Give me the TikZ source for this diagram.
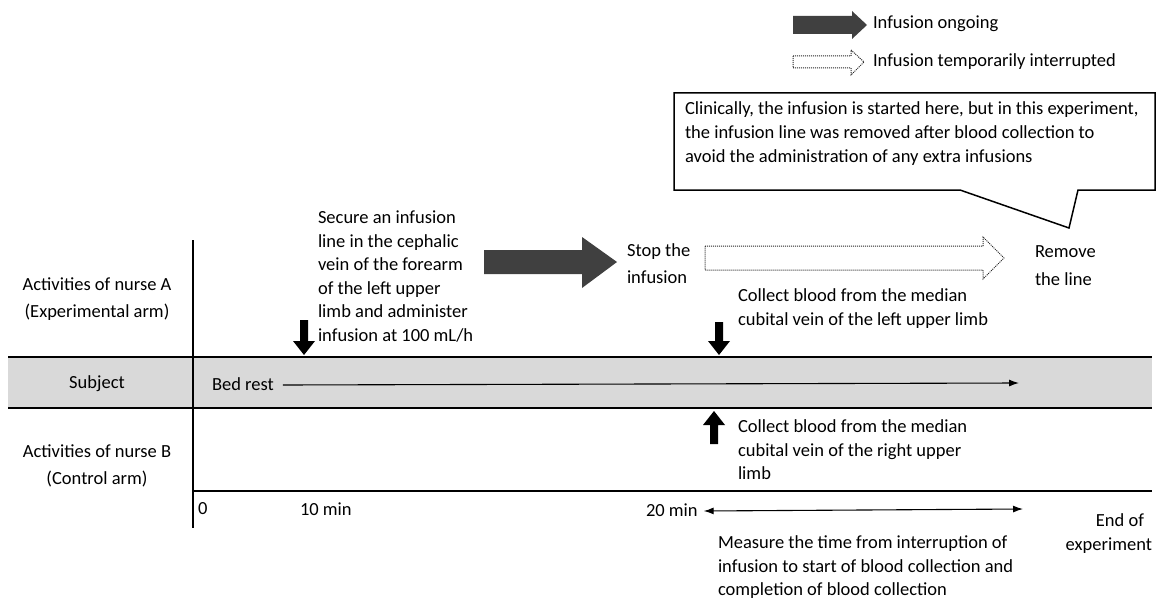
\documentclass[tikz,border=0pt]{standalone}
\usepackage{fontspec}
\setmainfont{Carlito}
\usetikzlibrary{arrows.meta}
\definecolor{darkarrow}{HTML}{404040}
\definecolor{band}{HTML}{D9D9D9}
\begin{document}
\begin{tikzpicture}[x=1pt,y=-1pt,
  every node/.style={inner sep=0pt,outer sep=0pt},
  txt/.style={font=\fontsize{18.5}{23.5}\selectfont,anchor=north west,align=left},
  txtw/.style={font=\fontsize{18.5}{26.5}\selectfont,align=left},
  one/.style={font=\fontsize{18.5}{23.5}\selectfont,anchor=west},
  rule/.style={line width=1.5pt,black},
  blk/.style={fill=black},
  dark/.style={fill=darkarrow},
  hollow/.style={draw=black!85,line width=1pt,densely dotted,fill=white},
  thin arrow/.style={line width=1.1pt,-{Latex[length=10pt,width=7pt]}},
  both arrow/.style={line width=1.1pt,{Latex[length=10pt,width=7pt]}-{Latex[length=10pt,width=7pt]}}]
\useasboundingbox (0,0) rectangle (1158,599);
% band
\fill[band] (8,357) rectangle (1152,408);
\draw[rule] (8,357) -- (1152,357);
\draw[rule] (8,408) -- (1152,408);
\draw[rule] (193,240) -- (193,528);
\draw[rule] (193,491) -- (1152,491);
% legend
\fill[dark] (793,16) -- (852,16) -- (852,11) -- (867,25) -- (852,39) -- (852,34) -- (793,34) -- cycle;
\draw[hollow] (793,56) -- (851,56) -- (851,50) -- (864,62) -- (851,75) -- (851,68) -- (793,68) -- cycle;
\node[one] (leg1) at (873,24) {Infusion ongoing};
\node[one] (leg2) at (873,62) {Infusion temporarily interrupted};
% callout
\draw[line width=1.5pt] (674,93) -- (1155,93) -- (1155,190) -- (1078,190) -- (1069,228) -- (960,190) -- (674,190) -- cycle;
\node[txt,font=\fontsize{18.5}{24}\selectfont] (call) at (685,102) {Clinically, the infusion is started here, but in this experiment,\\the infusion line was removed after blood collection to\\avoid the administration of any extra infusions};
% big arrows
\fill[dark] (484,250) -- (582,250) -- (582,237) -- (617,262) -- (582,288) -- (582,274) -- (484,274) -- cycle;
\draw[hollow] (705,246) -- (983,246) -- (983,237) -- (1004,258) -- (983,279) -- (983,270) -- (705,270) -- cycle;
% nurse A texts
\node[txt] (secure) at (318,211) {Secure an infusion\\line in the cephalic\\vein of the forearm\\of the left upper\\limb and administer\\infusion at 100 mL/h};
\node[txtw,anchor=north west] (stop) at (627,244) {Stop the\\infusion};
\node[txt,font=\fontsize{18.5}{28}\selectfont] (remove) at (1035,246) {Remove\\the line};
\node[txt] (collA) at (738,289) {Collect blood from the median\\cubital vein of the left upper limb};
\node[txt] (collB) at (738,420) {Collect blood from the median\\cubital vein of the right upper\\limb};
% block arrows
\fill[blk] (300,320) -- (308,320) -- (308,341) -- (315,341) -- (304,355) -- (293,341) -- (300,341) -- cycle;
\fill[blk] (715,322) -- (723,322) -- (723,341) -- (730,341) -- (719,355) -- (708,341) -- (715,341) -- cycle;
\fill[blk] (710,444) -- (718,444) -- (718,425) -- (725,425) -- (714,411) -- (703,425) -- (710,425) -- cycle;
% row labels
\node[txtw,align=center] (rowA) at (97,299) {Activities of nurse A\\(Experimental arm)};
\node[one,anchor=center] (subj) at (97,384) {Subject};
\node[txtw,align=center] (rowB) at (97,466) {Activities of nurse B\\(Control arm)};
% bed rest
\node[one] (bed) at (212,384) {Bed rest};
\coordinate (bedEnd) at (1019,383);
\draw[thin arrow] ([xshift=9pt,yshift=-1pt]bed.east) -- (bedEnd);
% time axis
\node[one] (t0) at (198,509) {0};
\node[one] (t10) at (300,509) {10 min};
\node[one] (t20) at (646,510) {20 min};
\coordinate (mEnd) at (1023,509);
\draw[both arrow] ([xshift=6pt,yshift=-1pt]t20.east) -- (mEnd);
\node[font=\fontsize{18.5}{24}\selectfont,anchor=north east,align=right] (endexp) at (1152,514) {End of\hspace*{8pt}\\experiment};
\node[txt,font=\fontsize{18.5}{23.5}\selectfont] (measure) at (718,536) {Measure the time from interruption of\\infusion to start of blood collection and\\completion of blood collection};
\end{tikzpicture}
\end{document}
